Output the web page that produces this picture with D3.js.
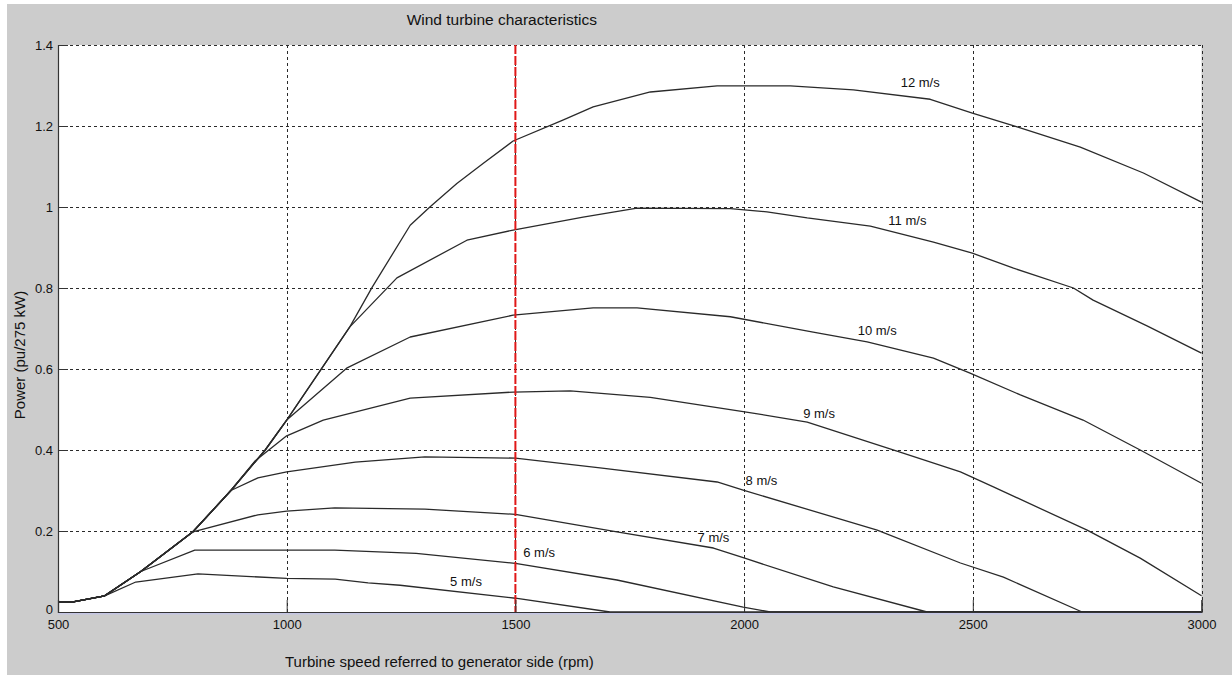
<!DOCTYPE html>
<html>
<head>
<meta charset="utf-8">
<script src="https://cdn.jsdelivr.net/npm/d3@7"></script>
<style>
  html, body { margin: 0; padding: 0; background: #ffffff; }
  svg { display: block; font-family: "Liberation Sans", Arial, sans-serif; }
</style>
</head>
<body>
<svg id="chart" width="1232" height="675"></svg>
<script>
// Axis ticks
const rpmTicks = [500, 1000, 1500, 2000, 2500, 3000];
const powerTicks = [0, 0.2, 0.4, 0.6, 0.8, 1, 1.2, 1.4];
const powerTickLabels = ["0", "0.2", "0.4", "0.6", "0.8", "1", "1.2", "1.4"];

// Wind speeds, one curve each
const windLabels = ["5 m/s", "6 m/s", "7 m/s", "8 m/s", "9 m/s", "10 m/s", "11 m/s", "12 m/s"];

// Power (pu of 275 kW) versus turbine speed (rpm), one [rpm, pu] list per wind speed
const curve5 = [[500,0.025],[533,0.025],[602,0.040],[670,0.074],[806,0.094],[1000,0.083],[1106,0.081],[1178,0.072],[1248,0.066],[1500,0.034],[1707,0],[3000,0]];
const curve6 = [[500,0.025],[533,0.025],[602,0.040],[681,0.100],[799,0.153],[1105,0.153],[1283,0.145],[1500,0.120],[1722,0.079],[1998,0.012],[2057,0],[3000,0]];
const curve7 = [[500,0.025],[533,0.025],[602,0.040],[681,0.100],[795,0.198],[937,0.240],[1000,0.249],[1105,0.257],[1302,0.254],[1500,0.241],[1722,0.198],[1933,0.158],[1998,0.134],[2195,0.062],[2400,0],[3000,0]];
const curve8 = [[500,0.025],[533,0.025],[602,0.040],[681,0.100],[795,0.198],[878,0.300],[937,0.331],[1000,0.346],[1150,0.370],[1302,0.383],[1500,0.380],[1685,0.356],[1941,0.321],[1998,0.301],[2291,0.202],[2473,0.121],[2567,0.086],[2739,0],[3000,0]];
const curve9 = [[500,0.025],[533,0.025],[602,0.040],[681,0.100],[795,0.198],[878,0.300],[930,0.372],[1000,0.435],[1080,0.474],[1270,0.528],[1495,0.543],[1620,0.546],[1795,0.530],[1998,0.495],[2138,0.469],[2341,0.395],[2473,0.346],[2545,0.309],[2750,0.202],[2866,0.133],[3000,0.040]];
const curve10 = [[500,0.025],[533,0.025],[602,0.040],[681,0.100],[795,0.198],[878,0.300],[953,0.400],[1000,0.474],[1131,0.602],[1270,0.679],[1495,0.733],[1670,0.751],[1766,0.751],[1970,0.729],[2151,0.691],[2269,0.667],[2414,0.627],[2494,0.590],[2604,0.536],[2741,0.474],[2866,0.400],[3000,0.318]];
const curve11 = [[500,0.025],[533,0.025],[602,0.040],[681,0.100],[795,0.198],[878,0.300],[953,0.400],[1000,0.474],[1138,0.704],[1241,0.825],[1394,0.918],[1495,0.943],[1648,0.975],[1766,0.997],[1970,0.996],[2050,0.988],[2138,0.973],[2276,0.953],[2414,0.913],[2499,0.886],[2589,0.849],[2720,0.800],[2763,0.770],[2882,0.706],[3000,0.639]];
const curve12 = [[500,0.025],[533,0.025],[602,0.040],[681,0.100],[795,0.198],[878,0.300],[953,0.400],[1000,0.474],[1138,0.704],[1187,0.802],[1270,0.955],[1313,1.000],[1372,1.058],[1430,1.108],[1495,1.163],[1605,1.215],[1670,1.247],[1795,1.284],[1941,1.299],[2101,1.299],[2239,1.289],[2407,1.266],[2499,1.232],[2597,1.198],[2735,1.148],[2873,1.084],[3000,1.012]];

const curves = [curve5, curve6, curve7, curve8, curve9, curve10, curve11, curve12];

// Rated-speed marker
const ratedRpm = 1500;

// ---------------------------------------------------------------
const svg = d3.select("#chart");
const W = 1232, H = 675;
const plot = { left: 58, right: 1201.5, top: 45, bottom: 612 };

const x = d3.scaleLinear().domain([500, 3000]).range([plot.left, plot.right]);
const y = d3.scaleLinear().domain([0, 1.4]).range([plot.bottom, plot.top]);

// figure background
svg.append("rect").attr("x", 0).attr("y", 0).attr("width", W).attr("height", H).attr("fill", "#ffffff");
svg.append("rect").attr("x", 7).attr("y", 4).attr("width", W - 7).attr("height", H - 4).attr("fill", "#cccccc");

// axes area
svg.append("rect")
  .attr("x", plot.left).attr("y", plot.top)
  .attr("width", plot.right - plot.left).attr("height", plot.bottom - plot.top)
  .attr("fill", "#ffffff");

// dotted grid
const grid = svg.append("g").attr("stroke", "#2a2a2a").attr("stroke-width", 1).attr("stroke-dasharray", "3,3");
grid.selectAll("line.v").data(rpmTicks.slice(1)).join("line")
  .attr("x1", d => Math.round(x(d)) + 0.5).attr("x2", d => Math.round(x(d)) + 0.5)
  .attr("y1", plot.top).attr("y2", plot.bottom);
grid.selectAll("line.h").data(powerTicks.slice(1)).join("line")
  .attr("x1", plot.left).attr("x2", plot.right)
  .attr("y1", d => Math.round(y(d)) + 0.5).attr("y2", d => Math.round(y(d)) + 0.5);

// power curves
const line = d3.line().x(d => x(d[0])).y(d => y(d[1]));
svg.append("g").selectAll("path").data(curves).join("path")
  .attr("d", line)
  .attr("fill", "none")
  .attr("stroke", "#2a2a2a")
  .attr("stroke-width", 1.3)
  .attr("stroke-linejoin", "round");

// rated speed line
svg.append("line")
  .attr("x1", x(ratedRpm)).attr("x2", x(ratedRpm))
  .attr("y1", plot.top).attr("y2", plot.bottom)
  .attr("stroke", "#e01818").attr("stroke-width", 2).attr("stroke-dasharray", "9,2");

// bottom axis
const xAxis = d3.axisBottom(x).tickValues(rpmTicks).tickSize(-12).tickPadding(8).tickFormat(d3.format("d"));
const gx = svg.append("g").attr("transform", `translate(0,${plot.bottom})`).call(xAxis);
gx.select(".domain").attr("stroke", "#333").attr("stroke-width", 1.2);
gx.selectAll(".tick line").attr("stroke", "#333");
gx.selectAll(".tick text").attr("fill", "#111").style("font-size", "13px")
  .style("font-family", "'Liberation Sans', Arial, sans-serif");

// faint edge under the bottom axis
svg.append("line")
  .attr("x1", plot.left).attr("x2", plot.right)
  .attr("y1", plot.bottom + 1.8).attr("y2", plot.bottom + 1.8)
  .attr("stroke", "#c4c6e4").attr("stroke-width", 1.6);

// left axis
const yAxis = d3.axisLeft(y).tickValues(powerTicks).tickSize(-10).tickPadding(5)
  .tickFormat((d, i) => powerTickLabels[i]);
const gy = svg.append("g").attr("transform", `translate(${plot.left},0)`).call(yAxis);
gy.select(".domain").attr("stroke", "#333").attr("stroke-width", 1.2);
gy.selectAll(".tick line").attr("stroke", "#333");
gy.selectAll(".tick text").attr("fill", "#111").style("font-size", "13px")
  .style("font-family", "'Liberation Sans', Arial, sans-serif")
  .attr("dy", d => d === 0 ? "0.12em" : "0.32em");

// curve labels (placed in data units next to each curve)
const labelAt = [[1392,0.064],[1552,0.136],[1933,0.173],[2038,0.314],[2164,0.479],[2291,0.684],[2357,0.956],[2385,1.296]];
svg.append("g").selectAll("text").data(windLabels).join("text")
  .attr("x", (d, i) => x(labelAt[i][0]))
  .attr("y", (d, i) => y(labelAt[i][1]))
  .attr("text-anchor", "middle")
  .attr("fill", "#111")
  .style("font-size", "13px")
  .text(d => d);

// title and axis labels
svg.append("text")
  .attr("x", 597).attr("y", 25)
  .attr("text-anchor", "end")
  .attr("fill", "#111")
  .style("font-size", "15.5px")
  .text("Wind turbine characteristics");

svg.append("text")
  .attr("x", 285).attr("y", 667)
  .attr("fill", "#111")
  .style("font-size", "15px")
  .text("Turbine speed referred to generator side (rpm)");

svg.append("text")
  .attr("transform", "translate(25,355) rotate(-90)")
  .attr("text-anchor", "middle")
  .attr("fill", "#111")
  .style("font-size", "15px")
  .text("Power (pu/275 kW)");
</script>
</body>
</html>
